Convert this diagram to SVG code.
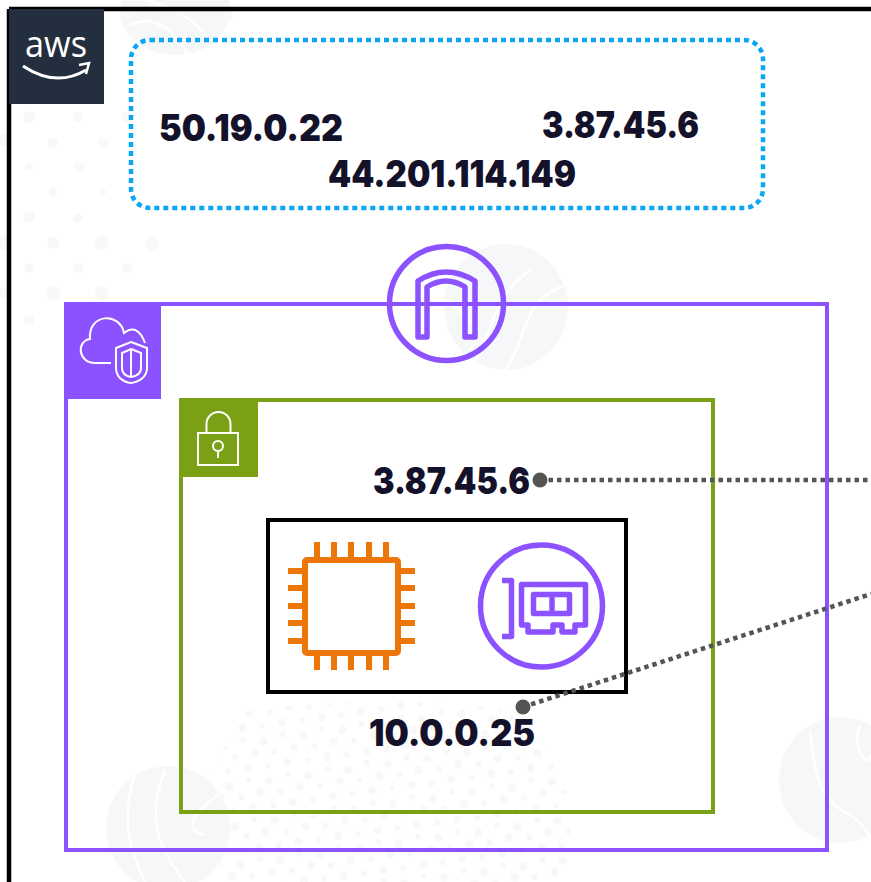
<svg xmlns="http://www.w3.org/2000/svg" width="871" height="882" viewBox="0 0 871 882">
<style>
.ip{font-family:"Inter","Liberation Sans",sans-serif;font-weight:900;font-size:37px;fill:#14112a}
.bg{fill:#f6f7f9}
.bl{fill:none;stroke:#fff;stroke-width:2.5}
.ln{fill:none;stroke:#8c52ff;stroke-linejoin:round;stroke-width:5.5}
.wi{fill:none;stroke:#fff;stroke-width:2}
.og{fill:none;stroke:#ec7608;stroke-width:6}
.conn{fill:none;stroke:#555;stroke-width:4.5;stroke-dasharray:4.5 4}
</style>
<defs>
<pattern id="dots" width="40" height="40" patternUnits="userSpaceOnUse" patternTransform="translate(212 700) rotate(-8)">
<circle cx="5" cy="8" r="4" fill="#f7f8f9"/><circle cx="25" cy="4" r="3" fill="#f7f8f9"/><circle cx="15" cy="20" r="3" fill="#f7f8f9"/><circle cx="35" cy="18" r="4" fill="#f7f8f9"/><circle cx="6" cy="33" r="3" fill="#f7f8f9"/><circle cx="26" cy="32" r="4" fill="#f7f8f9"/>
</pattern>
</defs>
<rect width="871" height="882" fill="#fff"/>
<g id="background">
<ellipse cx="506" cy="307" rx="62" ry="63" class="bg"/>
<path class="bl" d="M470 370C495 330 490 300 530 270M505 370C530 335 520 300 566 285M447 300C470 320 485 330 470 350"/>
<ellipse cx="168" cy="828" rx="62" ry="62" class="bg"/>
<path class="bl" d="M135 775C120 820 130 850 145 882M165 770C145 820 160 850 185 882M225 790C195 810 180 830 205 835"/>
<ellipse cx="840" cy="780" rx="61" ry="63" class="bg"/>
<path class="bl" d="M810 730C815 780 820 800 850 815C865 825 870 835 871 845M860 725C850 750 870 770 871 755"/>
<ellipse cx="175" cy="10" rx="55" ry="45" class="bg"/>
<path class="bl" d="M130 25C150 15 175 25 190 60M145 0C165 5 190 15 205 35"/>
<path d="M240 712Q400 690 520 712L570 780V882H225L205 790Z" fill="url(#dots)"/>
<g fill="#f7f8f9">
<circle cx="29" cy="117" r="6"/><circle cx="78" cy="117" r="5"/><circle cx="127" cy="117" r="6"/><circle cx="53" cy="143" r="5"/><circle cx="103" cy="143" r="5"/>
<circle cx="29" cy="167" r="4"/><circle cx="79" cy="167" r="5"/><circle cx="53" cy="192" r="4"/><circle cx="103" cy="192" r="3"/><circle cx="29" cy="217" r="6"/><circle cx="78" cy="218" r="5"/>
<circle cx="5" cy="243" r="7"/><circle cx="53" cy="243" r="6"/><circle cx="102" cy="243" r="7"/><circle cx="152" cy="243" r="7"/><circle cx="78" cy="268" r="5"/><circle cx="127" cy="268" r="5"/><circle cx="29" cy="268" r="5"/>
<circle cx="53" cy="293" r="7"/><circle cx="102" cy="293" r="7"/><circle cx="5" cy="293" r="6"/><circle cx="29" cy="320" r="5"/>
<circle cx="127" cy="16" r="7"/><circle cx="178" cy="16" r="5"/><circle cx="227" cy="16" r="6"/><circle cx="5" cy="140" r="6"/>
</g>
</g>
<g id="aws-cloud">
<path d="M9 9H871M9 9V882" fill="none" stroke="#000" stroke-width="4.500"/>
<rect x="9" y="9" width="95" height="95" fill="#232f3e"/>
<g id="aws-logo">
<text x="25" y="57" font-family="'Open Sans','Liberation Sans',sans-serif" font-size="37" fill="#fff" textLength="62" lengthAdjust="spacingAndGlyphs">aws</text>
<path d="M23 66Q56 88 86 70" fill="none" stroke="#fff" stroke-width="3"/>
<path d="M79 65L89 63L86 74" fill="none" stroke="#fff" stroke-width="2.500"/>
</g>
</g>
<g id="ip-pool">
<rect x="131" y="40" width="632" height="168" rx="19" fill="none" stroke="#0aa5f5" stroke-width="4.500" stroke-dasharray="5 4"/>
<text class="ip" x="159" y="141" textLength="184" lengthAdjust="spacingAndGlyphs">50.19.0.22</text>
<text class="ip" x="542" y="138" textLength="157" lengthAdjust="spacingAndGlyphs">3.87.45.6</text>
<text class="ip" x="328" y="187" textLength="248" lengthAdjust="spacingAndGlyphs">44.201.114.149</text>
</g>
<g id="vpc">
<rect x="66" y="304" width="761" height="546" fill="none" stroke="#8c52ff" stroke-width="4"/>
<rect x="64" y="302" width="97" height="97" fill="#8c52ff"/>
<g id="vpc-icon">
<path class="wi" d="M111 363H95C78 363 76 341 90 339C88 313 120 312 124 333C134 325 141 332 145 343"/>
<path class="wi" d="M131 342L147 348V368C147 377 139 382 131 383C123 382 116 377 116 368V348Z"/>
<path class="wi" d="M131 349L141 353V368C141 373 137 376 131 377C125 376 122 373 122 368V353Z"/>
<path class="wi" d="M131 349V377"/>
</g>
</g>
<g id="internet-gateway">
<circle cx="446.500" cy="303.500" r="57" fill="none" stroke="#8c52ff" stroke-width="5.500"/>
<path class="ln" stroke-width="5" d="M418 337V281Q446 263 475 281V337H465V287Q446 275 427 287V337Z"/>
</g>
<g id="subnet">
<rect x="181" y="400" width="532" height="412" fill="none" stroke="#7aa116" stroke-width="4"/>
<rect x="179" y="398" width="79" height="79" fill="#7aa116"/>
<g id="subnet-icon">
<rect x="198" y="433" width="40" height="32" class="wi"/>
<path class="wi" d="M206.500 433V424A12 12 0 0 1 230.500 424V433"/>
<circle cx="218" cy="446" r="5" class="wi"/>
<path class="wi" d="M218 451V458"/>
</g>
</g>
<g id="instance-box">
<rect x="268" y="520" width="358" height="172" fill="none" stroke="#000" stroke-width="4"/>
</g>
<g id="ec2">
<rect x="305" y="560" width="93" height="93" rx="2" class="og"/>
<path class="og" d="M317 542V560M334 542V560M351 542V560M369 542V560M386 542V560M317 653V670M334 653V670M351 653V670M369 653V670M386 653V670M288 571H305M288 588H305M288 606H305M288 623H305M288 641H305M398 571H415M398 588H415M398 606H415M398 623H415M398 641H415"/>
</g>
<g id="eni">
<circle cx="541.500" cy="606" r="61" fill="none" stroke="#8c52ff" stroke-width="5.500"/>
<path class="ln" d="M502 580.500H511.500V636.500H502"/>
<path class="ln" d="M521.500 584.500H585.500V625H575V632H562V625H553V632H528V625H521.500Z"/>
<rect x="533.500" y="594.500" width="36" height="19" class="ln"/>
<path class="ln" d="M552 594.500V613.500"/>
</g>
<g id="labels">
<text class="ip" x="373" y="494" textLength="157" lengthAdjust="spacingAndGlyphs">3.87.45.6</text>
<text class="ip" x="369" y="746" textLength="166" lengthAdjust="spacingAndGlyphs">10.0.0.25</text>
</g>
<g id="connectors">
<path class="conn" d="M540 480H871"/>
<path class="conn" d="M523 707L871 594"/>
<circle cx="540" cy="480" r="7.500" fill="#555"/>
<circle cx="523" cy="707" r="7.500" fill="#555"/>
</g>
</svg>
